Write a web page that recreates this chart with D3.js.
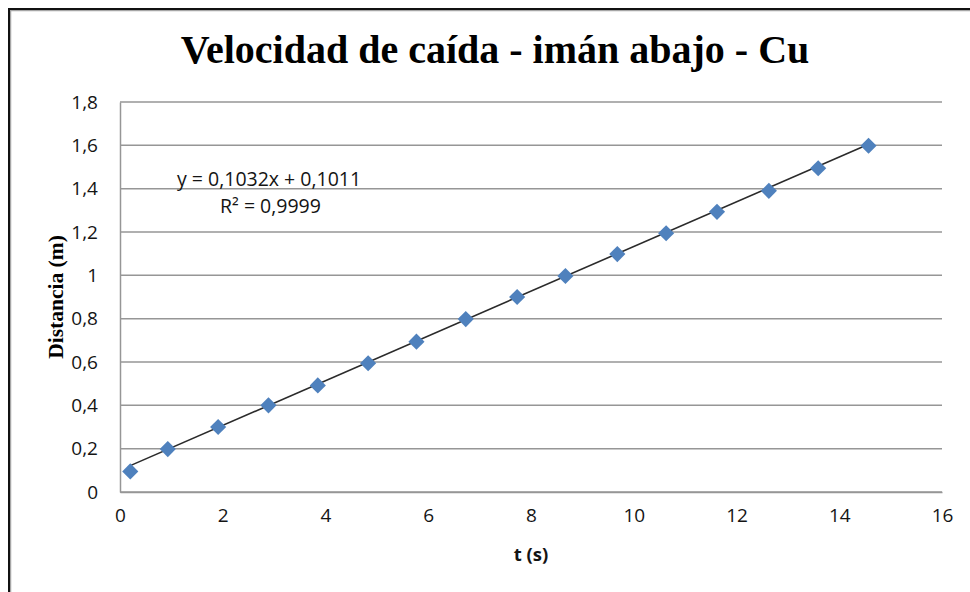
<!DOCTYPE html>
<html>
<head>
<meta charset="utf-8">
<script src="https://cdn.jsdelivr.net/npm/d3@7"></script>
<style>
  html, body { margin: 0; padding: 0; background: #fff; overflow: hidden; }
  .tick text { font-family: 'Open Sans', sans-serif; font-size: 19px; fill: #141414; }
</style>
</head>
<body>
<div id="main"></div>
<script>
'use strict';
// - - - - - - - - - -

// data
const tiempo = [0.2, 0.93, 1.91, 2.89, 3.85, 4.83, 5.77, 6.73, 7.73, 8.67, 9.68, 10.63, 11.62, 12.63, 13.59, 14.57];
const distancia = [0.095, 0.198, 0.3, 0.4, 0.492, 0.594, 0.694, 0.798, 0.9, 0.997, 1.098, 1.194, 1.293, 1.39, 1.494, 1.598];
const xTicks = [0, 2, 4, 6, 8, 10, 12, 14, 16];
const yTicks = [0, 0.2, 0.4, 0.6, 0.8, 1, 1.2, 1.4, 1.6, 1.8];
const trend = { slope: 0.1032, intercept: 0.1011 };
const labels = {
  title: 'Velocidad de caída - imán abajo - Cu',
  x: 't (s)',
  y: 'Distancia (m)',
  eq: 'y = 0,1032x + 0,1011',
  r2: 'R² = 0,9999'
};

// configuration
const canvas = {
  width: 970,
  height: 592,
  plot: { left: 120, right: 942, top: 102, bottom: 492 }
};

const es = d3.formatLocale({ decimal: ',', thousands: '.', grouping: [3], currency: ['', '€'] });
const fmt = d => es.format('~g')(d);

let svg = d3.select('#main')
  .append('svg')
  .attr('width', canvas.width)
  .attr('height', canvas.height);

// outer frame
svg.append('rect')
  .attr('x', 10.5).attr('y', 10.5)
  .attr('width', 1200).attr('height', 1200)
  .attr('fill', 'none').attr('stroke', '#a6a6a6').attr('stroke-width', 1.5);
svg.append('rect')
  .attr('x', 9).attr('y', 9)
  .attr('width', 1200).attr('height', 1200)
  .attr('fill', 'none').attr('stroke', '#111').attr('stroke-width', 2);

const xScale = d3.scaleLinear()
  .domain([0, 16])
  .range([canvas.plot.left, canvas.plot.right]);
const yScale = d3.scaleLinear()
  .domain([0, 1.8])
  .range([canvas.plot.bottom, canvas.plot.top]);

// gridlines
svg.append('g')
  .selectAll('line')
  .data(yTicks)
  .join('line')
  .attr('x1', canvas.plot.left).attr('x2', canvas.plot.right)
  .attr('y1', d => yScale(d)).attr('y2', d => yScale(d))
  .attr('stroke', '#969696').attr('stroke-width', 1.5);

// axes
const yAxis = svg.append('g')
  .attr('transform', 'translate(' + canvas.plot.left + ',0)')
  .call(d3.axisLeft(yScale).tickValues(yTicks).tickFormat(fmt).tickSize(0).tickPadding(22));
yAxis.select('.domain').attr('stroke', '#969696').attr('stroke-width', 1.5);

const xAxis = svg.append('g')
  .attr('transform', 'translate(0,' + canvas.plot.bottom + ')')
  .call(d3.axisBottom(xScale).tickValues(xTicks).tickFormat(fmt).tickSize(0).tickPadding(17));
xAxis.select('.domain').attr('stroke', '#969696').attr('stroke-width', 1.5);

// trendline
const x0 = d3.min(tiempo), x1 = d3.max(tiempo);
svg.append('line')
  .attr('x1', xScale(x0)).attr('y1', yScale(trend.slope * x0 + trend.intercept))
  .attr('x2', xScale(x1)).attr('y2', yScale(trend.slope * x1 + trend.intercept))
  .attr('stroke', '#2b2b2b').attr('stroke-width', 1.6);

// markers
const diamond = d3.symbol().type(d3.symbolSquare).size(130);
svg.append('g')
  .selectAll('path')
  .data(tiempo.map((t, i) => [t, distancia[i]]))
  .join('path')
  .attr('d', diamond)
  .attr('transform', d => 'translate(' + xScale(d[0]) + ',' + yScale(d[1]) + ') rotate(45)')
  .attr('fill', '#4f81bd');

// trend labels
svg.append('text')
  .attr('x', 177).attr('y', 186)
  .style('font-family', "'Open Sans', sans-serif").style('font-size', '19.5px').attr('fill', '#141414')
  .text(labels.eq);
svg.append('text')
  .attr('x', 220).attr('y', 213)
  .style('font-family', "'Open Sans', sans-serif").style('font-size', '19.5px').attr('fill', '#141414')
  .text(labels.r2);

// title
svg.append('text')
  .attr('x', 495).attr('y', 63)
  .attr('text-anchor', 'middle')
  .style('font-family', "'Liberation Serif', serif").style('font-weight', 'bold').style('font-size', '40px')
  .text(labels.title);

// axis titles
svg.append('text')
  .attr('x', (canvas.plot.left + canvas.plot.right) / 2).attr('y', 561)
  .attr('text-anchor', 'middle')
  .style('font-family', "'Open Sans', sans-serif").style('font-weight', 'bold').style('font-size', '18.5px')
  .attr('fill', '#141414')
  .text(labels.x);
svg.append('text')
  .attr('transform', 'translate(63,' + ((canvas.plot.top + canvas.plot.bottom) / 2) + ') rotate(-90)')
  .attr('text-anchor', 'middle')
  .style('font-family', "'Liberation Serif', serif").style('font-weight', 'bold').style('font-size', '21.5px')
  .text(labels.y);
</script>
</body>
</html>
